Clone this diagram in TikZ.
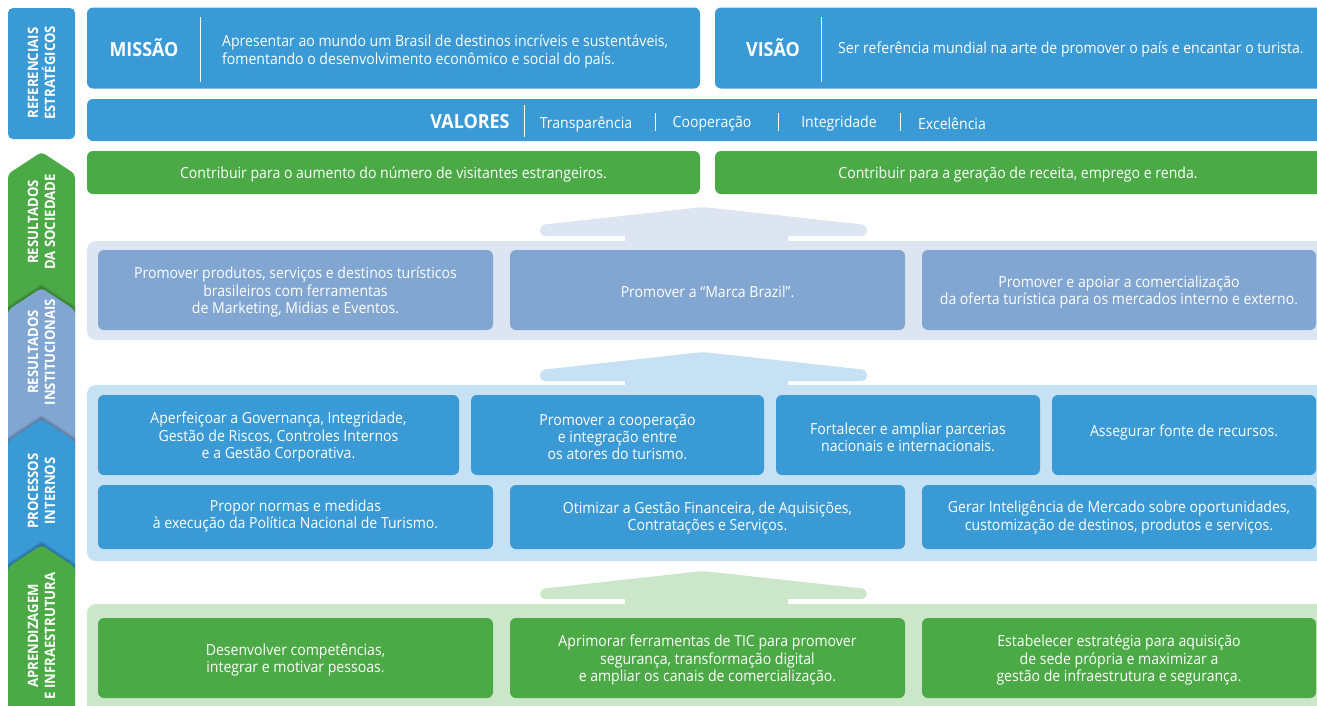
\documentclass[tikz,border=0pt]{standalone}
\usepackage{fontspec}
\setmainfont[FakeStretch=0.92]{Open Sans}
\definecolor{cblue}{RGB}{58,154,214}
\definecolor{cgreen}{RGB}{75,170,70}
\definecolor{cslate}{RGB}{130,166,210}
\definecolor{pslate}{RGB}{220,229,241}
\definecolor{pblue}{RGB}{197,225,243}
\definecolor{pgreen}{RGB}{204,230,201}
\tikzset{
  box/.style={rounded corners=6pt, inner sep=0pt},
  panel/.style={rounded corners=9pt, inner sep=0pt},
  head/.style={text=white, inner sep=0pt, yshift=-1pt, font=\bfseries\fontsize{19.5}{22}\selectfont},
  plain/.style={text=white, inner sep=0pt, align=center, yshift=-2pt, font=\fontsize{15.3}{17.4}\selectfont},
  side/.style={text=white, inner sep=0pt, align=center, rotate=90,
    font=\bfseries\fontsize{14.3}{17}\selectfont},
  divline/.style={white, line width=0.9pt},
  shade1/.style={black, opacity=0.09},
}
\begin{document}
\begin{tikzpicture}[x=1pt,y=-1pt]
\useasboundingbox (0,0) rectangle (1317,705);
\clip (0,0) rectangle (1317,705);

% ---------- sidebar ----------
\fill[cblue, rounded corners=5pt] (8,8) rectangle (75,139);
\fill[cgreen, rounded corners=4pt] (8,320) -- (8,174) -- (41.5,152) -- (75,174) -- (75,320) -- cycle;
\foreach \s in {4,2.5,1.2}{
  \fill[shade1] (8,450) -- (8,310-\s) -- (41.5,288-\s) -- (75,310-\s) -- (75,450) -- cycle;}
\fill[cslate, rounded corners=4pt] (8,450) -- (8,310) -- (41.5,288) -- (75,310) -- (75,450) -- cycle;
\foreach \s in {4,2.5,1.2}{
  \fill[shade1] (8,580) -- (8,441-\s) -- (41.5,419-\s) -- (75,441-\s) -- (75,580) -- cycle;}
\fill[cblue, rounded corners=4pt] (8,580) -- (8,441) -- (41.5,419) -- (75,441) -- (75,580) -- cycle;
\foreach \s in {4,2.5,1.2}{
  \fill[shade1] (8,720) -- (8,567-\s) -- (41.5,545-\s) -- (75,567-\s) -- (75,720) -- cycle;}
\fill[cgreen, rounded corners=4pt] (8,720) -- (8,567) -- (41.5,545) -- (75,567) -- (75,720) -- cycle;

\node[side] (sref) at (41.5,73) {REFERENCIAIS\\ESTRATÉGICOS};
\node[side] (ssoc) at (41.5,222) {RESULTADOS\\DA SOCIEDADE};
\node[side] (sinst) at (41.5,352) {RESULTADOS\\INSTITUCIONAIS};
\node[side] (sproc) at (41.5,491) {PROCESSOS\\INTERNOS};
\node[side] (sapr) at (41.5,636) {APRENDIZAGEM\\E INFRAESTRUTURA};

% ---------- referenciais ----------
\node[box, fill=cblue, minimum width=613, minimum height=81] (missao) at (393.5,48) {};
\node[head] (missaoh) at (144,47) {MISSÃO};
\draw[divline] (200,17) -- (200,82);
\node[plain, anchor=west, align=left] (missaot) at (222,49.5)
  {Apresentar ao mundo um Brasil de destinos incríveis e sustentáveis,\\fomentando o desenvolvimento econômico e social do país.};

\node[box, fill=cblue, minimum width=640, minimum height=81] (visao) at (1035,48) {};
\node[head] (visaoh) at (773,47) {VISÃO};
\draw[divline] (821,17) -- (821,82);
\node[plain, anchor=west] (visaot) at (838,47)
  {Ser referência mundial na arte de promover o país e encantar o turista.};

\node[box, fill=cblue, minimum width=1260, minimum height=42] (valores) at (717,120) {};
\node[head] (valoresh) at (470,121) {VALORES};
\draw[divline] (524,105) -- (524,137);
\node[plain] (v1) at (586,122) {Transparência};
\draw[divline] (655,113) -- (655,131);
\node[plain] (v2) at (712,122) {Cooperação};
\draw[divline] (778,113) -- (778,131);
\node[plain] (v3) at (839,122) {Integridade};
\draw[divline] (900,113) -- (900,131);
\node[plain] (v4) at (952,122) {Excelência};

% ---------- resultados da sociedade ----------
\node[box, fill=cgreen, minimum width=613, minimum height=43] (soc1) at (393.5,172.5) {};
\node[plain] (soc1t) at (soc1) {Contribuir para o aumento do número de visitantes estrangeiros.};
\node[box, fill=cgreen, minimum width=640, minimum height=43] (soc2) at (1035,172.5) {};
\node[plain] (soc2t) at (1018,172.5) {Contribuir para a geração de receita, emprego e renda.};

% ---------- arrow 1 + resultados institucionais ----------
\fill[pslate, rounded corners=5pt] (540,236) -- (540,225) -- (703,207) -- (867,225) -- (867,236) -- cycle;
\fill[pslate] (625,233) rectangle (788,243);
\node[panel, fill=pslate, minimum width=1260, minimum height=99] (p1) at (717,290.5) {};
\node[box, fill=cslate, minimum width=395, minimum height=80] (i1) at (295.5,290) {};
\node[plain] (i1t) at (i1) {Promover produtos, serviços e destinos turísticos\\brasileiros com ferramentas\\de Marketing, Midias e Eventos.};
\node[box, fill=cslate, minimum width=395, minimum height=80] (i2) at (707.5,290) {};
\node[plain] (i2t) at (i2) {Promover a “Marca Brazil”.};
\node[box, fill=cslate, minimum width=394, minimum height=80] (i3) at (1119,290) {};
\node[plain] (i3t) at (i3) {Promover e apoiar a comercialização\\da oferta turística para os mercados interno e externo.};

% ---------- arrow 2 + processos internos ----------
\fill[pblue, rounded corners=5pt] (540,381) -- (540,370) -- (703,352) -- (867,370) -- (867,381) -- cycle;
\fill[pblue] (625,378) rectangle (788,388);
\node[panel, fill=pblue, minimum width=1260, minimum height=176] (p2) at (717,473) {};
\node[box, fill=cblue, minimum width=361, minimum height=80] (r1) at (278.5,435) {};
\node[plain] (r1t) at (r1) {Aperfeiçoar a Governança, Integridade,\\Gestão de Riscos, Controles Internos\\e a Gestão Corporativa.};
\node[box, fill=cblue, minimum width=293, minimum height=80] (r2) at (617.5,435) {};
\node[plain] (r2t) at (r2) {Promover a cooperação\\e integração entre\\os atores do turismo.};
\node[box, fill=cblue, minimum width=264, minimum height=80] (r3) at (908,435) {};
\node[plain] (r3t) at (r3) {Fortalecer e ampliar parcerias\\nacionais e internacionais.};
\node[box, fill=cblue, minimum width=264, minimum height=80] (r4) at (1184,435) {};
\node[plain] (r4t) at (1184,430) {Assegurar fonte de recursos.};
\node[box, fill=cblue, minimum width=395, minimum height=64] (q1) at (295.5,517) {};
\node[plain] (q1t) at (295.5,514) {Propor normas e medidas\\à execução da Política Nacional de Turismo.};
\node[box, fill=cblue, minimum width=395, minimum height=64] (q2) at (707.5,517) {};
\node[plain] (q2t) at (707.5,516) {Otimizar a Gestão Financeira, de Aquisições,\\Contratações e Serviços.};
\node[box, fill=cblue, minimum width=394, minimum height=64] (q3) at (1119,517) {};
\node[plain] (q3t) at (1119,515.5) {Gerar Inteligência de Mercado sobre oportunidades,\\customização de destinos, produtos e serviços.};

% ---------- arrow 3 + aprendizagem ----------
\fill[pgreen, rounded corners=5pt] (540,599) -- (540,589) -- (703,571) -- (867,589) -- (867,599) -- cycle;
\fill[pgreen] (625,596) rectangle (788,606);
\node[panel, fill=pgreen, minimum width=1260, minimum height=130] (p3) at (717,669) {};
\node[box, fill=cgreen, minimum width=395, minimum height=80] (a1) at (295.5,658) {};
\node[plain] (a1t) at (a1) {Desenvolver competências,\\integrar e motivar pessoas.};
\node[box, fill=cgreen, minimum width=395, minimum height=80] (a2) at (707.5,658) {};
\node[plain] (a2t) at (a2) {Aprimorar ferramentas de TIC para promover\\segurança, transformação digital\\e ampliar os canais de comercialização.};
\node[box, fill=cgreen, minimum width=394, minimum height=80] (a3) at (1119,658) {};
\node[plain] (a3t) at (a3) {Estabelecer estratégia para aquisição\\de sede própria e maximizar a\\gestão de infraestrutura e segurança.};
\end{tikzpicture}
\end{document}
